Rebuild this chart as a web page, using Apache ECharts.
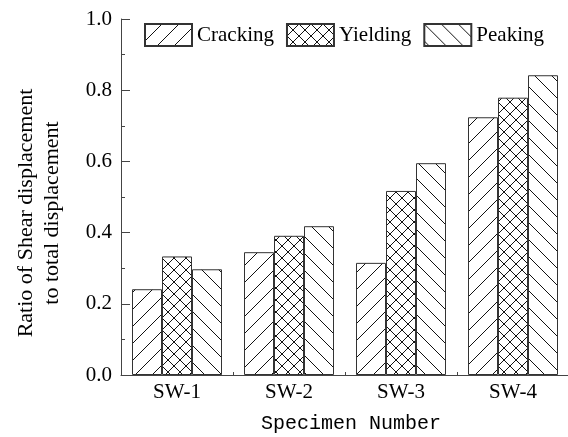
<!DOCTYPE html>
<html>
<head>
<meta charset="utf-8">
<script src="https://cdn.jsdelivr.net/npm/echarts@6/dist/echarts.min.js"></script>
<style>
  html, body { margin: 0; padding: 0; background: #fff; }
  #chart { width: 568px; height: 437px; }
</style>
</head>
<body>
<div id="chart"></div>
<script>
// Specimens and displacement ratios at each loading stage
const specimens = ['SW-1', 'SW-2', 'SW-3', 'SW-4'];
const cracking = [0.241, 0.345, 0.315, 0.724];
const yielding = [0.333, 0.391, 0.517, 0.779];
const peaking  = [0.297, 0.418, 0.595, 0.842];
const yTicks = [0, 0.2, 0.4, 0.6, 0.8, 1.0];

const serif = '"Liberation Serif", "Times New Roman", serif';
const ink = '#111';

// Build a repeating hatch tile: kind = 'fwd' (/), 'back' (\) or 'cross' (X)
function hatch(kind, p) {
  const c = document.createElement('canvas');
  c.width = p; c.height = p;
  const g = c.getContext('2d');
  g.fillStyle = '#fff';
  g.fillRect(0, 0, p, p);
  g.strokeStyle = ink;
  g.lineWidth = 1;
  const seg = (x1, y1, x2, y2) => { g.beginPath(); g.moveTo(x1, y1); g.lineTo(x2, y2); g.stroke(); };
  if (kind === 'fwd' || kind === 'cross') {
    seg(-1, p + 1, p + 1, -1);
  }
  if (kind === 'back' || kind === 'cross') {
    seg(-1, -1, p + 1, p + 1);
  }
  return { image: c, repeat: 'repeat' };
}

const chart = echarts.init(document.getElementById('chart'), null, { renderer: 'canvas' });

function barSeries(name, data, fill) {
  return {
    name: name,
    type: 'bar',
    data: data,
    barWidth: 30,
    barGap: '0%',
    itemStyle: { color: fill, borderColor: '#333', borderWidth: 1 },
    emphasis: { disabled: true }
  };
}

chart.setOption({
  animation: false,
  backgroundColor: '#fff',
  grid: { left: 121, right: -1, top: 19, bottom: 62, containLabel: false, outerBoundsMode: 'none' },
  legend: {
    top: 23,
    left: 144,
    padding: 0,
    itemWidth: 47,
    itemHeight: 22,
    itemGap: 12,
    icon: 'rect',
    textStyle: { fontFamily: serif, fontSize: 21, color: '#000' },
    data: ['Cracking', 'Yielding', 'Peaking']
  },
  xAxis: {
    type: 'category',
    data: specimens,
    name: 'Specimen Number',
    nameLocation: 'middle',
    nameGap: 39,
    nameTextStyle: { fontFamily: '"Liberation Mono", monospace', fontSize: 20, color: '#000', padding: [0, 0, 0, 12] },
    axisLine: { lineStyle: { color: '#444', width: 1 } },
    axisTick: { show: true, inside: true, length: 3, lineStyle: { color: '#444' } },
    axisLabel: { fontFamily: serif, fontSize: 21, color: '#000', margin: 7 }
  },
  yAxis: {
    type: 'value',
    min: 0,
    max: 1,
    interval: 0.2,
    name: 'Ratio of Shear displacement\nto total displacement',
    nameLocation: 'middle',
    nameGap: 56,
    nameTextStyle: { fontFamily: serif, fontSize: 22, color: '#000', lineHeight: 26, padding: [0, 32, 0, 0] },
    axisLine: { show: true, lineStyle: { color: '#444', width: 1 } },
    axisTick: { show: true, inside: true, length: 9, lineStyle: { color: '#444' } },
    minorTick: { show: true, splitNumber: 2, length: 4, lineStyle: { color: '#444' } },
    splitLine: { show: false },
    axisLabel: {
      fontFamily: serif, fontSize: 21, color: '#000', margin: 9,
      formatter: v => (yTicks.some(t => Math.abs(t - v) < 1e-9) ? v.toFixed(1) : '')
    }
  },
  series: [
    barSeries('Cracking', cracking, hatch('fwd', 17)),
    barSeries('Yielding', yielding, hatch('cross', 12)),
    barSeries('Peaking', peaking, hatch('back', 17))
  ]
});
</script>
</body>
</html>
